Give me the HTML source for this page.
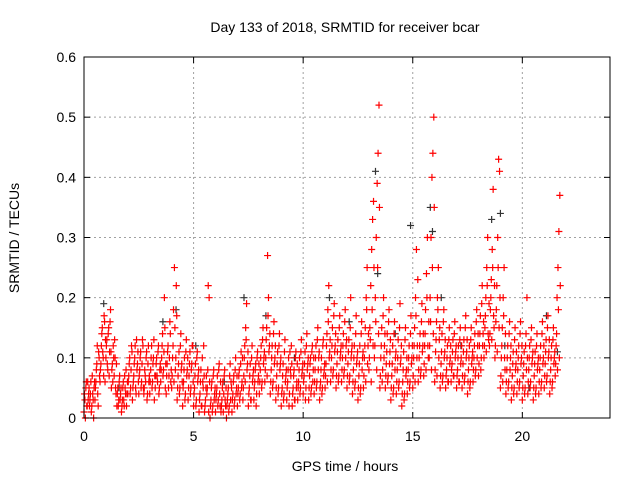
<!DOCTYPE html>
<html><head><meta charset="utf-8"><style>
body{margin:0;background:#fff}
svg{display:block;font-family:"Liberation Sans",sans-serif}
</style></head><body>
<svg id="chart" width="640" height="480">
<text x="345" y="32" text-anchor="middle" font-size="14">Day 133 of 2018, SRMTID for receiver bcar</text>
<text transform="translate(19,238) rotate(-90)" text-anchor="middle" font-size="14">SRMTID / TECUs</text>
<text x="345" y="471" text-anchor="middle" font-size="14">GPS time / hours</text>
<g id="grid"></g><g id="marks"></g><g id="axes"></g>
</svg>
<script>
const xTicks=[0,5,10,15,20];
const yTicks=[0,0.1,0.2,0.3,0.4,0.5,0.6];
const binStarts=[0,0.25,0.5,0.75,1,1.25,1.5,1.75,2,2.25,2.5,2.75,3,3.25,3.5,3.75,4,4.25,4.5,4.75,5,5.25,5.5,5.75,6,6.25,6.5,6.75,7,7.25,7.5,7.75,8,8.25,8.5,8.75,9,9.25,9.5,9.75,10,10.25,10.5,10.75,11,11.25,11.5,11.75,12,12.25,12.5,12.75,13,13.25,13.5,13.75,14,14.25,14.5,14.75,15,15.25,15.5,15.75,16,16.25,16.5,16.75,17,17.25,17.5,17.75,18,18.25,18.5,18.75,19,19.25,19.5,19.75,20,20.25,20.5,20.75,21,21.25,21.5];
const redValues=[
[0.01,0.03,0.05,0.02,0.06,0.04],[0.02,0.04,0.01,0.07,0.03,0.05],[0.03,0.06,0.09,0.04,0.11,0.07],[0.08,0.12,0.15,0.1,0.17,0.06],
[0.1,0.13,0.08,0.15,0.11,0.18],[0.05,0.09,0.12,0.07,0.1,0.04],[0.02,0.05,0.03,0.07,0.04,0.01],[0.03,0.06,0.02,0.05,0.08,0.04],
[0.04,0.07,0.1,0.05,0.12,0.03],[0.06,0.09,0.12,0.04,0.08,0.11],[0.04,0.08,0.11,0.06,0.13,0.05],[0.05,0.07,0.1,0.03,0.09,0.06],
[0.04,0.08,0.12,0.06,0.1,0.03],[0.05,0.09,0.07,0.11,0.04,0.08],[0.06,0.1,0.14,0.08,0.2,0.05],[0.04,0.09,0.12,0.07,0.16,0.06],
[0.05,0.1,0.18,0.25,0.08,0.22],[0.03,0.07,0.11,0.05,0.14,0.09],[0.02,0.06,0.1,0.04,0.13,0.08],[0.03,0.07,0.11,0.05,0.09,0.12],
[0.02,0.05,0.09,0.03,0.11,0.07],[0.01,0.04,0.08,0.02,0.06,0.12],[0.01,0.03,0.07,0.05,0.22,0.2],[0.0,0.03,0.06,0.02,0.08,0.04],
[0.01,0.04,0.07,0.03,0.09,0.02],[0.01,0.03,0.06,0.04,0.08,0.02],[0.0,0.03,0.05,0.02,0.09,0.06],[0.01,0.04,0.07,0.03,0.1,0.05],
[0.02,0.05,0.08,0.04,0.11,0.06],[0.03,0.07,0.12,0.15,0.19,0.09],[0.02,0.05,0.09,0.03,0.12,0.07],[0.03,0.06,0.09,0.04,0.11,0.07],
[0.04,0.08,0.12,0.06,0.15,0.1],[0.06,0.1,0.15,0.27,0.2,0.12],[0.04,0.08,0.12,0.06,0.16,0.1],[0.03,0.07,0.11,0.05,0.14,0.09],
[0.02,0.05,0.09,0.04,0.13,0.07],[0.03,0.06,0.1,0.04,0.08,0.12],[0.02,0.05,0.08,0.03,0.11,0.06],[0.03,0.06,0.1,0.05,0.13,0.08],
[0.04,0.07,0.11,0.05,0.14,0.09],[0.03,0.07,0.1,0.05,0.12,0.08],[0.04,0.08,0.12,0.06,0.15,0.1],[0.03,0.06,0.1,0.05,0.13,0.08],
[0.05,0.09,0.14,0.18,0.22,0.11],[0.06,0.1,0.15,0.08,0.19,0.12],[0.05,0.09,0.13,0.07,0.17,0.11],[0.06,0.1,0.14,0.08,0.18,0.12],
[0.05,0.09,0.13,0.07,0.2,0.11],[0.04,0.08,0.12,0.06,0.17,0.1],[0.03,0.07,0.12,0.05,0.16,0.1],[0.05,0.1,0.15,0.2,0.25,0.12],
[0.08,0.15,0.22,0.28,0.33,0.36],[0.1,0.2,0.3,0.39,0.44,0.52],[0.05,0.1,0.15,0.08,0.2,0.12],[0.05,0.09,0.14,0.07,0.18,0.11],
[0.03,0.07,0.12,0.05,0.16,0.1],[0.04,0.08,0.13,0.06,0.19,0.1],[0.02,0.06,0.11,0.04,0.15,0.08],[0.04,0.08,0.12,0.06,0.17,0.1],
[0.05,0.1,0.15,0.2,0.28,0.12],[0.06,0.1,0.14,0.08,0.19,0.12],[0.07,0.12,0.18,0.24,0.3,0.1],[0.1,0.2,0.3,0.4,0.44,0.5],
[0.06,0.11,0.16,0.2,0.25,0.13],[0.05,0.09,0.14,0.07,0.18,0.11],[0.05,0.08,0.12,0.06,0.15,0.1],[0.06,0.09,0.13,0.07,0.16,0.11],
[0.05,0.08,0.12,0.06,0.15,0.1],[0.05,0.09,0.13,0.07,0.17,0.11],[0.04,0.08,0.12,0.06,0.15,0.1],[0.06,0.1,0.14,0.08,0.18,0.12],
[0.07,0.12,0.17,0.1,0.22,0.14],[0.1,0.15,0.2,0.25,0.3,0.13],[0.12,0.18,0.23,0.28,0.38,0.15],[0.1,0.16,0.22,0.3,0.43,0.41],
[0.05,0.1,0.15,0.2,0.25,0.08],[0.04,0.08,0.12,0.06,0.16,0.1],[0.03,0.07,0.11,0.05,0.15,0.09],[0.04,0.08,0.12,0.06,0.16,0.1],
[0.03,0.07,0.11,0.05,0.14,0.2],[0.04,0.08,0.12,0.06,0.15,0.1],[0.03,0.07,0.11,0.05,0.14,0.09],[0.04,0.08,0.12,0.06,0.16,0.1],
[0.05,0.09,0.13,0.07,0.17,0.11],[0.04,0.08,0.12,0.06,0.15,0.1],[0.07,0.12,0.2,0.25,0.31,0.37]];
const redExtra=[
[0.04,0.0,0.06,0.02,0.03,0.05],[0.03,0.06,0.02,0.04,0.0,0.06],[0.05,0.08,0.12,0.02,0.1,0.06],[0.09,0.14,0.11,0.07,0.16,0.13],
[0.12,0.09,0.14,0.07,0.16,0.11],[0.08,0.06,0.1,0.13,0.05,0.09],[0.04,0.02,0.06,0.03,0.05,0.02],[0.05,0.03,0.07,0.04,0.02,0.06],
[0.06,0.09,0.04,0.08,0.11,0.05],[0.07,0.1,0.05,0.13,0.09,0.06],[0.07,0.1,0.05,0.09,0.12,0.04],[0.08,0.06,0.11,0.04,0.12,0.07],
[0.06,0.1,0.05,0.09,0.13,0.07],[0.07,0.1,0.06,0.12,0.05,0.09],[0.08,0.12,0.07,0.11,0.15,0.09],[0.07,0.11,0.05,0.1,0.14,0.08],
[0.07,0.12,0.06,0.15,0.1,0.17],[0.05,0.09,0.04,0.12,0.08,0.06],[0.05,0.08,0.03,0.11,0.07,0.1],[0.05,0.09,0.04,0.08,0.12,0.06],
[0.04,0.07,0.02,0.1,0.06,0.08],[0.03,0.06,0.02,0.1,0.05,0.07],[0.02,0.05,0.04,0.08,0.01,0.06],[0.02,0.05,0.01,0.07,0.03,0.05],
[0.03,0.05,0.02,0.08,0.04,0.06],[0.02,0.05,0.01,0.07,0.03,0.05],[0.02,0.04,0.01,0.07,0.03,0.05],[0.03,0.06,0.02,0.08,0.04,0.07],
[0.04,0.07,0.03,0.09,0.05,0.1],[0.05,0.1,0.06,0.13,0.08,0.11],[0.04,0.07,0.03,0.1,0.06,0.08],[0.05,0.08,0.02,0.1,0.06,0.09],
[0.06,0.1,0.05,0.13,0.09,0.11],[0.08,0.13,0.07,0.17,0.11,0.14],[0.06,0.1,0.05,0.14,0.09,0.12],[0.05,0.09,0.04,0.12,0.08,0.1],
[0.04,0.07,0.03,0.11,0.06,0.08],[0.05,0.08,0.02,0.11,0.07,0.09],[0.04,0.07,0.03,0.1,0.05,0.09],[0.05,0.08,0.04,0.11,0.07,0.09],
[0.06,0.09,0.03,0.12,0.08,0.1],[0.05,0.09,0.04,0.11,0.06,0.1],[0.06,0.1,0.05,0.13,0.08,0.11],[0.05,0.08,0.04,0.12,0.07,0.09],
[0.07,0.12,0.06,0.16,0.1,0.13],[0.08,0.12,0.07,0.17,0.11,0.14],[0.07,0.11,0.06,0.15,0.1,0.12],[0.08,0.12,0.07,0.16,0.1,0.13],
[0.07,0.11,0.06,0.15,0.1,0.12],[0.06,0.1,0.05,0.14,0.09,0.11],[0.05,0.09,0.04,0.14,0.08,0.11],[0.07,0.12,0.06,0.18,0.09,0.14],
[0.1,0.13,0.06,0.18,0.12,0.25],[0.12,0.16,0.08,0.25,0.14,0.35],[0.07,0.12,0.06,0.17,0.1,0.14],[0.07,0.11,0.06,0.16,0.09,0.13],
[0.05,0.09,0.04,0.14,0.08,0.11],[0.06,0.1,0.05,0.15,0.09,0.12],[0.04,0.08,0.03,0.13,0.07,0.1],[0.06,0.1,0.05,0.14,0.09,0.12],
[0.07,0.12,0.06,0.17,0.1,0.23],[0.08,0.12,0.07,0.16,0.11,0.14],[0.09,0.14,0.08,0.2,0.12,0.16],[0.12,0.16,0.08,0.25,0.14,0.35],
[0.08,0.13,0.07,0.18,0.1,0.15],[0.07,0.11,0.06,0.16,0.1,0.13],[0.07,0.1,0.06,0.13,0.09,0.12],[0.08,0.11,0.07,0.14,0.1,0.12],
[0.07,0.1,0.06,0.13,0.09,0.12],[0.07,0.11,0.06,0.15,0.1,0.13],[0.06,0.1,0.05,0.13,0.09,0.11],[0.08,0.12,0.07,0.16,0.1,0.14],
[0.09,0.14,0.08,0.19,0.12,0.16],[0.12,0.17,0.11,0.22,0.14,0.19],[0.14,0.2,0.13,0.25,0.17,0.22],[0.12,0.18,0.11,0.25,0.15,0.2],
[0.07,0.12,0.06,0.17,0.1,0.14],[0.06,0.1,0.05,0.14,0.08,0.12],[0.05,0.09,0.04,0.13,0.08,0.11],[0.06,0.1,0.05,0.14,0.09,0.12],
[0.05,0.09,0.04,0.12,0.08,0.1],[0.06,0.1,0.05,0.13,0.09,0.11],[0.05,0.09,0.04,0.12,0.08,0.1],[0.06,0.1,0.05,0.14,0.09,0.12],
[0.07,0.11,0.06,0.15,0.1,0.13],[0.06,0.1,0.05,0.13,0.09,0.11],[0.09,0.14,0.08,0.18,0.1,0.22]];
const blackTimes=[0.9,1.6,3.6,4.2,5.1,6.4,7.3,8.3,9.6,11.2,12.1,13.3,13.4,14.2,14.9,15.8,15.9,16.3,17.2,18.6,19.0,19.2,20.3,21.1,21.6];
const blackValues=[0.19,0.05,0.16,0.18,0.12,0.06,0.2,0.17,0.1,0.2,0.16,0.41,0.24,0.14,0.32,0.35,0.31,0.2,0.12,0.33,0.34,0.12,0.05,0.17,0.11];

const L=84,R=610,T=57,B=418;
const sx=h=>L+(h/24)*(R-L);
const sy=v=>B-(v/0.6)*(B-T);
const NS='http://www.w3.org/2000/svg';
function mk(tag,attrs,parent){const e=document.createElementNS(NS,tag);for(const k in attrs)e.setAttribute(k,attrs[k]);parent.appendChild(e);return e;}
const grid=document.getElementById('grid'),marks=document.getElementById('marks'),axes=document.getElementById('axes');
yTicks.forEach(v=>{
  if(v>0&&v<0.6){const g=mk('line',{x1:L,x2:R,y1:sy(v),y2:sy(v),stroke:'#a0a0a0','stroke-dasharray':'2,3'},grid);
  
  }
  const t=mk('text',{x:L-8,y:sy(v)+5,'text-anchor':'end','font-size':'14'},axes);t.textContent=String(v);
  
  
  mk('line',{x1:L,x2:L+6,y1:sy(v),y2:sy(v),stroke:'#000'},axes);
  mk('line',{x1:R,x2:R-6,y1:sy(v),y2:sy(v),stroke:'#000'},axes);
});
xTicks.forEach(h=>{
  if(h>0){const g=mk('line',{x1:sx(h),x2:sx(h),y1:T,y2:B,stroke:'#a0a0a0','stroke-dasharray':'2,3'},grid);
  
  }
  const t=mk('text',{x:sx(h),y:B+23,'text-anchor':'middle','font-size':'14'},axes);t.textContent=String(h);
  
  
  mk('line',{x1:sx(h),x2:sx(h),y1:B,y2:B-6,stroke:'#000'},axes);
  mk('line',{x1:sx(h),x2:sx(h),y1:T,y2:T+6,stroke:'#000'},axes);
});
const frame=mk('rect',{x:L,y:T,width:R-L,height:B-T,fill:'none',stroke:'#000'},axes);


function plus(h,v,color,name){
  const x=sx(h),y=sy(v);
  const p=mk('path',{d:`M${x-3.5},${y}H${x+3.5}M${x},${y-3.5}V${y+3.5}`,stroke:color,'stroke-width':1.2,fill:'none'},marks);
  
  
}
blackTimes.forEach((h,i)=>plus(h,blackValues[i],'#333','black-point'));
binStarts.forEach((h,i)=>redValues[i].forEach((v,k)=>plus(h+k*0.042,v,'#f00','red-point')));
binStarts.forEach((h,i)=>redExtra[i].forEach((v,k)=>plus(h+0.021+k*0.042,v,'#f00','red-point')));
</script>
</body></html>
